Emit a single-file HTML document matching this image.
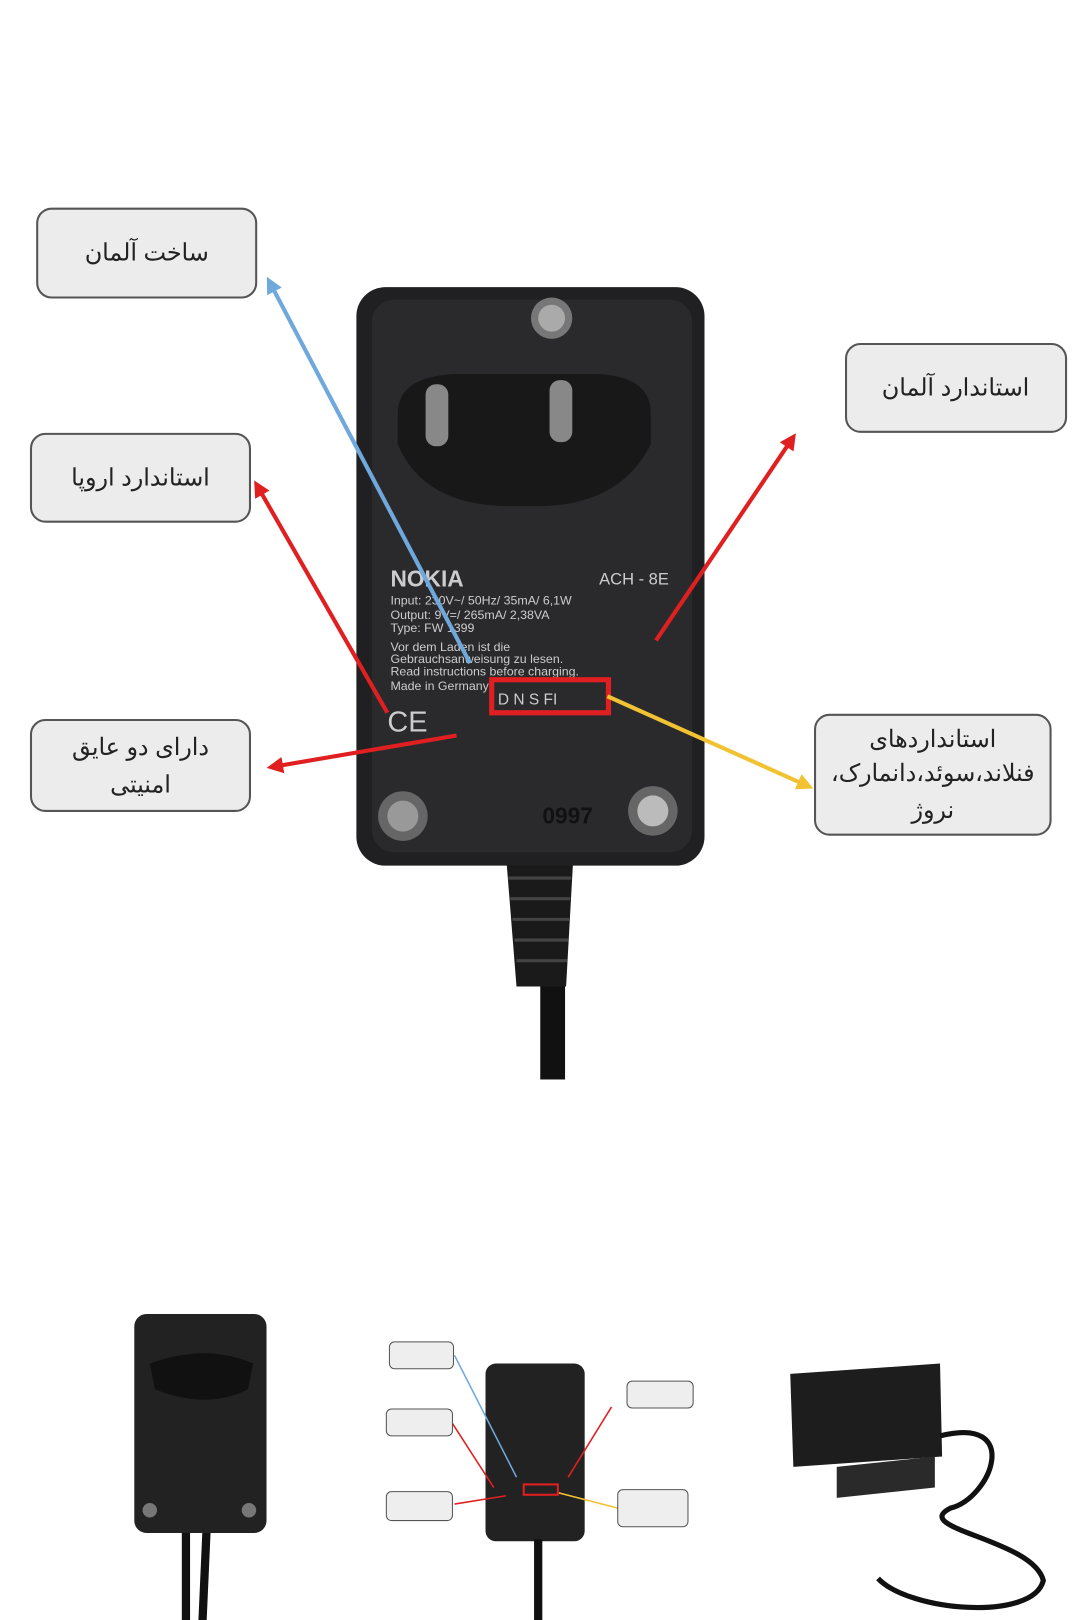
<!DOCTYPE html>
<html><head><meta charset="utf-8"><style>
html,body{margin:0;padding:0;background:#fff;}
svg{display:block}
text{font-family:"Liberation Sans","Noto Sans CJK SC",sans-serif;}
</style></head><body>
<svg width="1080" height="1620" viewBox="0 0 1080 1620" xmlns="http://www.w3.org/2000/svg">
<defs>
<marker id="ab" viewBox="0 0 10 10" refX="5" refY="5" markerWidth="4" markerHeight="4" orient="auto-start-reverse"><path d="M0,0 L10,5 L0,10 z" fill="#6fa8dc"/></marker>
<marker id="ar" viewBox="0 0 10 10" refX="5" refY="5" markerWidth="4" markerHeight="4" orient="auto-start-reverse"><path d="M0,0 L10,5 L0,10 z" fill="#e02020"/></marker>
<marker id="ay" viewBox="0 0 10 10" refX="5" refY="5" markerWidth="4" markerHeight="4" orient="auto-start-reverse"><path d="M0,0 L10,5 L0,10 z" fill="#f1c232"/></marker>
</defs>
<g transform="scale(1.033)">
<rect x="523" y="900" width="24" height="145" fill="#111"/>
<path d="M490,830 L555,830 L548,955 L500,955 Z" fill="#1a1a1a"/>
<g stroke="#444" stroke-width="3">
<line x1="492" y1="850" x2="553" y2="850"/><line x1="494" y1="870" x2="552" y2="870"/><line x1="496" y1="890" x2="551" y2="890"/><line x1="498" y1="910" x2="550" y2="910"/><line x1="500" y1="930" x2="549" y2="930"/></g>
<rect x="345" y="278" width="337" height="560" rx="28" fill="#202022"/>
<rect x="360" y="290" width="310" height="535" rx="22" fill="#2a2a2d"/>
<path d="M385,400 Q385,365 440,362 L580,362 Q630,365 630,400 L630,430 Q600,490 520,490 L495,490 Q410,490 385,430 Z" fill="#181818"/>
<rect x="412" y="372" width="22" height="60" rx="10" fill="#888"/>
<rect x="532" y="368" width="22" height="60" rx="10" fill="#888"/>
<circle cx="534" cy="308" r="20" fill="#777"/><circle cx="534" cy="308" r="13" fill="#aaa"/>
<circle cx="390" cy="790" r="24" fill="#666"/><circle cx="390" cy="790" r="15" fill="#999"/>
<circle cx="632" cy="785" r="24" fill="#666"/><circle cx="632" cy="785" r="15" fill="#bbb"/>
<g fill="#ccc" font-size="12">
<text x="378" y="568" font-size="22" font-weight="bold">NOKIA</text>
<text x="580" y="566" font-size="16">ACH - 8E</text>
<text x="378" y="585">Input: 230V~/ 50Hz/ 35mA/ 6,1W</text>
<text x="378" y="599">Output: 9V=/ 265mA/ 2,38VA</text>
<text x="378" y="612">Type: FW 1399</text>
<text x="378" y="630">Vor dem Laden ist die</text>
<text x="378" y="642">Gebrauchsanweisung zu lesen.</text>
<text x="378" y="654">Read instructions before charging.</text>
<text x="378" y="668">Made in Germany</text>
<text x="375" y="708" font-size="28">CE</text>
<text x="482" y="682" font-size="15">D  N  S  FI</text>
<text x="525" y="797" font-size="22" fill="#111" font-weight="bold">0997</text>
</g>
<rect x="476" y="658" width="113" height="32" fill="none" stroke="#e02020" stroke-width="5"/>
<line x1="455" y1="642" x2="262" y2="275" stroke="#6fa8dc" stroke-width="4" marker-end="url(#ab)"/>
<line x1="375" y1="690" x2="250" y2="472" stroke="#e02020" stroke-width="4" marker-end="url(#ar)"/>
<line x1="442" y1="712" x2="266" y2="742" stroke="#e02020" stroke-width="4" marker-end="url(#ar)"/>
<line x1="635" y1="620" x2="766" y2="426" stroke="#e02020" stroke-width="4" marker-end="url(#ar)"/>
<line x1="588" y1="674" x2="780" y2="760" stroke="#f1c232" stroke-width="4" marker-end="url(#ay)"/>
<g fill="#ececec" stroke="#555" stroke-width="2">
<rect x="36" y="202" width="212" height="86" rx="14"/>
<rect x="30" y="420" width="212" height="85" rx="14"/>
<rect x="30" y="697" width="212" height="88" rx="14"/>
<rect x="819" y="333" width="213" height="85" rx="14"/>
<rect x="789" y="692" width="228" height="116" rx="14"/>
</g>
<g font-size="23" fill="#222" text-anchor="middle" direction="rtl">
<text x="142" y="252">ساخت آلمان</text>
<text x="136" y="470">استاندارد اروپا</text>
<text x="136" y="731">دارای دو عایق</text>
<text x="136" y="767">امنیتی</text>
<text x="925" y="383">استاندارد آلمان</text>
<text x="903" y="723">استانداردهای</text>
<text x="903" y="756">فنلاند،سوئد،دانمارک،</text>
<text x="903" y="792">نروژ</text>
</g>
<path d="M180,1480 L180,1570 M200,1480 L196,1570" stroke="#111" stroke-width="8"/>
<rect x="130" y="1272" width="128" height="212" rx="12" fill="#222"/>
<path d="M145,1320 Q200,1300 245,1320 L240,1345 Q200,1365 150,1345 Z" fill="#111"/>
<circle cx="145" cy="1462" r="7" fill="#777"/><circle cx="241" cy="1462" r="7" fill="#777"/>
<rect x="470" y="1320" width="96" height="172" rx="10" fill="#222"/>
<rect x="517" y="1490" width="8" height="80" fill="#111"/>
<g stroke-width="1.5">
<line x1="500" y1="1430" x2="440" y2="1312" stroke="#6fa8dc"/>
<line x1="478" y1="1440" x2="438" y2="1378" stroke="#e02020"/>
<line x1="490" y1="1448" x2="440" y2="1456" stroke="#e02020"/>
<line x1="550" y1="1430" x2="592" y2="1362" stroke="#e02020"/>
<line x1="540" y1="1445" x2="598" y2="1460" stroke="#f1c232"/>
</g>
<rect x="507" y="1437" width="33" height="10" fill="none" stroke="#e02020" stroke-width="2"/>
<g fill="#eee" stroke="#555" stroke-width="1">
<rect x="377" y="1299" width="62" height="26" rx="5"/><rect x="374" y="1364" width="64" height="26" rx="5"/>
<rect x="374" y="1444" width="64" height="28" rx="5"/><rect x="607" y="1337" width="64" height="26" rx="5"/>
<rect x="598" y="1442" width="68" height="36" rx="5"/></g>
<path d="M765,1330 L910,1320 L912,1410 L768,1420 Z" fill="#1d1d1d"/>
<path d="M810,1420 L905,1410 L905,1440 L810,1450 Z" fill="#2a2a2a"/>
<path d="M910,1390 C990,1370 960,1450 920,1460 C880,1480 1000,1490 1010,1530 C1000,1570 880,1560 850,1528" stroke="#111" stroke-width="5" fill="none"/>
</g>
</svg>
</body></html>
